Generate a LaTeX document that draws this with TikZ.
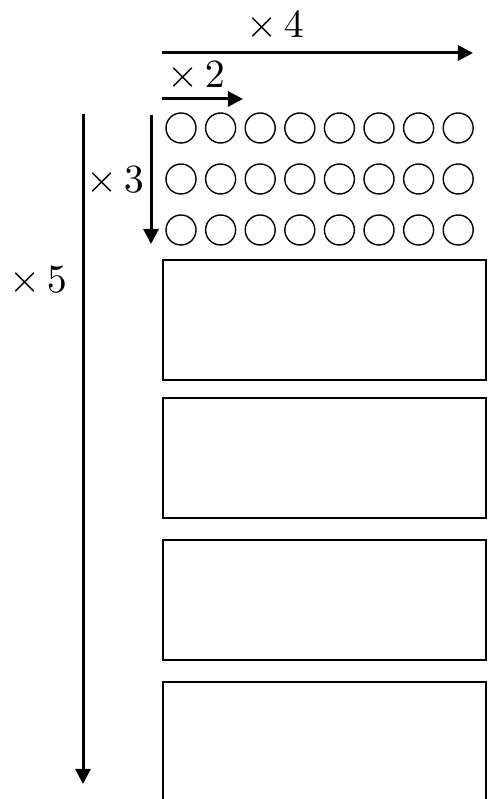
\documentclass[tikz,border=0pt]{standalone}
\usepackage{tikz}
\usetikzlibrary{arrows.meta}
\tikzset{
  mularrow/.style={line width=0.75pt,-{Triangle[length=3.8pt,width=3.8pt]}},
  dot/.style={circle,draw,line width=0.35pt,minimum size=7.5pt,inner sep=0pt},
  block/.style={draw,line width=0.5pt,minimum width=80.75pt,minimum height=30pt,inner sep=0pt}
}
\begin{document}
\begin{tikzpicture}[x=0.25pt,y=-0.25pt]
    \useasboundingbox (0,0) rectangle (487,799);
    % labels
    \node[anchor=base] (times4) at (275,38) {$\times\,4$};
    \node[anchor=base] (times2) at (196,88) {$\times\,2$};
    \node[anchor=base] (times3) at (115,193) {$\times\,3$};
    \node[anchor=base] (times5) at (38,293) {$\times\,5$};
    % arrow ends
    \coordinate (fourS) at (162,53);
    \coordinate (fourE) at (473,53);
    \coordinate (twoS) at (162,99);
    \coordinate (twoE) at (243,99);
    \coordinate (threeS) at (151,115);
    \coordinate (threeE) at (151,244);
    \coordinate (fiveS) at (83,114);
    \coordinate (fiveE) at (83,784);
    \draw[mularrow] (fourS) -- (fourE);
    \draw[mularrow] (twoS) -- (twoE);
    \draw[mularrow] (threeS) -- (threeE);
    \draw[mularrow] (fiveS) -- (fiveE);
    % circles
    \foreach \r/\y in {1/128,2/179,3/230}
      \foreach \c in {1,...,8}
        \node[dot] (dot-\r-\c) at ({181+39.6*(\c-1)},\y) {};
    % blocks
    \foreach \i/\y in {1/320,2/458,3/600,4/742}
      \node[block] (block\i) at (324.5,\y) {};
  \end{tikzpicture}
\end{document}
